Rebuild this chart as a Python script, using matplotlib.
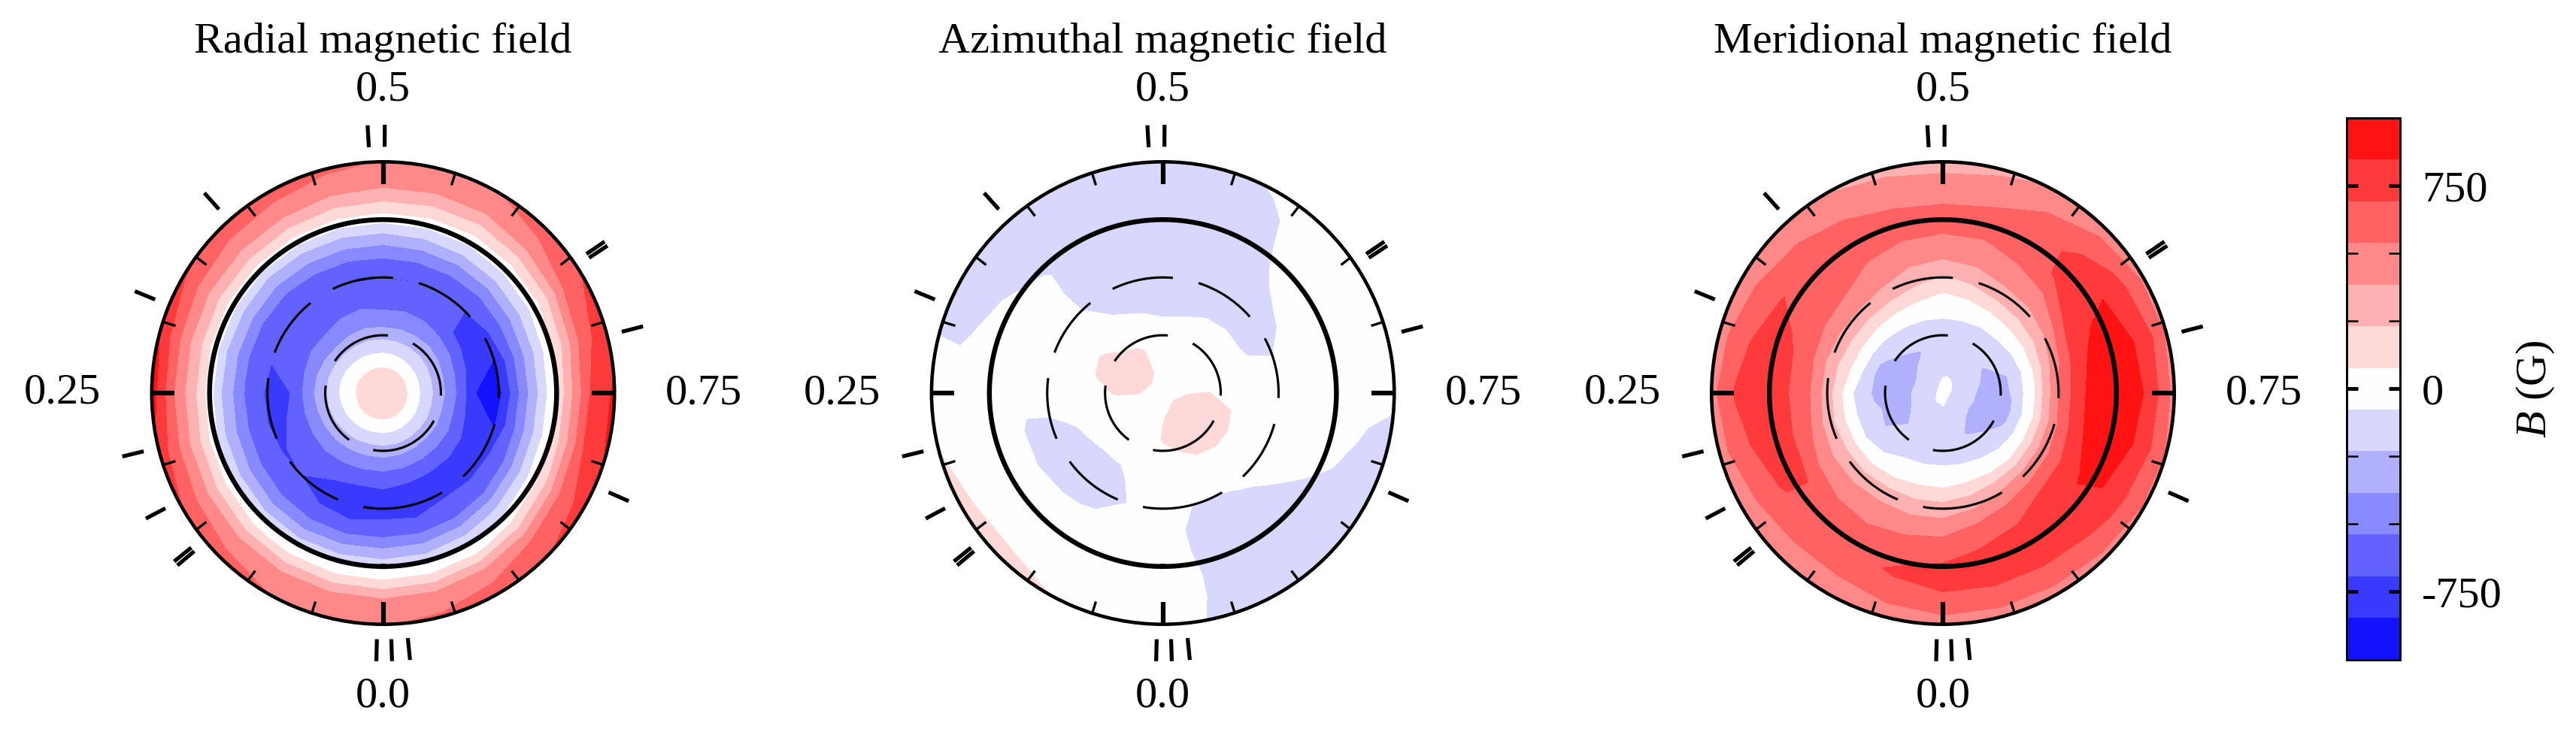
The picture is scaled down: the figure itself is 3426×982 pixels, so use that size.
import numpy as np
import matplotlib
matplotlib.use("Agg")
import matplotlib.pyplot as plt

plt.rcParams['font.family'] = ['Liberation Serif', 'DejaVu Serif']
plt.rcParams['mathtext.fontset'] = 'custom'
plt.rcParams['mathtext.rm'] = 'Liberation Serif'
plt.rcParams['mathtext.it'] = 'Liberation Serif:italic'
plt.rcParams['lines.scale_dashes'] = False

titles = ["Radial magnetic field", "Azimuthal magnetic field", "Meridional magnetic field"]
major_phases = [0.0, 0.25, 0.5, 0.75]
major_labels = ["0.0", "0.25", "0.5", "0.75"]
obs_phases = [0.004, 0.9947, 0.984, 0.212, 0.1725, 0.139, 0.142, 0.312, 0.384, 0.4908, 0.501,
              0.816, 0.71, 0.6575, 0.6545]
level_edges = np.linspace(-1000, 1000, 14)
cbar_major = [-750, 0, 750]
cbar_minor = [-500, -250, 250, 500]
cbar_labels = ["-750", "0", "750"]

radii = [0.0, 0.1, 0.2, 0.3, 0.4, 0.5, 0.6, 0.7, 0.8, 0.9, 1.0]
# columns: phase = k/24
radial_field = [
    [150]*24,
    [110,110,110,112,112,110,110,110,108,105,103,100,100,96,92,90,87,85,85,88,92,98,102,106],
    [-150,-150,-140,-130,-120,-110,-100,-100,-110,-120,-130,-140,-140,-150,-160,-170,-180,-190,-190,-190,-180,-175,-165,-155],
    [-450,-450,-440,-430,-420,-410,-390,-400,-420,-440,-420,-410,-430,-430,-430,-430,-450,-480,-480,-500,-480,-480,-470,-460],
    [-680,-680,-660,-640,-660,-680,-692,-670,-620,-620,-590,-580,-612,-600,-620,-680,-730,-780,-846,-790,-720,-700,-700,-690],
    [-760,-790,-760,-692,-700,-720,-720,-692,-640,-640,-660,-700,-695,-695,-650,-692,-760,-860,-900,-860,-760,-740,-720,-780],
    [-620,-640,-630,-600,-570,-545,-538,-540,-545,-540,-530,-520,-510,-510,-520,-520,-500,-490,-490,-500,-540,-590,-620,-630],
    [-300,-310,-330,-320,-290,-260,-230,-230,-230,-250,-230,-220,-210,-200,-200,-190,-170,-140,-120,-130,-170,-220,-270,-300],
    [40,40,60,90,130,170,200,190,170,170,160,150,150,130,110,130,150,230,300,280,210,120,60,40],
    [420,420,420,440,470,500,520,510,480,470,460,430,410,400,400,460,540,640,710,700,620,530,470,430],
    [530,530,540,610,690,800,930,850,720,640,610,570,530,520,530,620,700,790,870,860,760,680,610,560],
]
azimuthal_field = [
    [30]*24,
    [70,50,45,45,55,65,78,90,100,100,85,65,45,30,25,30,45,60,72,90,110,110,100,85],
    [85,30,-10,-15,0,40,85,115,130,115,100,50,15,-5,-5,0,10,40,80,125,150,150,130,110],
    [30,-10,-50,-45,-20,10,50,78,90,40,0,-40,-65,-60,-40,-30,-15,10,30,80,100,100,80,55],
    [-10,-50,-95,-105,-95,-65,-20,10,0,-40,-85,-105,-105,-100,-90,-85,-90,-60,-25,-10,0,0,-30,-20],
    [-20,-70,-105,-125,-125,-85,-45,-30,-50,-75,-115,-140,-150,-145,-130,-120,-115,-65,-30,-20,-30,-60,-77,-78],
    [-40,-55,-70,-85,-95,-90,-45,-30,-20,-77,-135,-155,-160,-155,-145,-95,-60,-35,-20,-25,-50,-85,-110,-100],
    [-30,-25,-15,-10,-25,-30,-25,-15,-10,-72,-120,-140,-150,-150,-125,-60,-35,-25,-20,-30,-70,-115,-130,-100],
    [-20,15,20,30,10,-10,-25,-45,-77,-95,-125,-130,-135,-130,-100,-50,-30,-20,-25,-50,-95,-125,-130,-90],
    [-20,30,50,65,55,40,-20,-85,-110,-115,-120,-115,-115,-110,-90,-45,-30,-30,-45,-95,-115,-120,-125,-90],
    [-30,50,78,95,100,78,0,-80,-110,-120,-120,-115,-110,-100,-70,-35,-25,-30,-60,-110,-120,-120,-120,-95],
]
meridional_field = [
    [-30]*24,
    [-110,-130,-130,-140,-170,-190,-200,-210,-210,-190,-160,-130,-100,-95,-100,-120,-140,-160,-190,-200,-210,-205,-180,-140],
    [-130,-145,-170,-220,-275,-290,-285,-285,-280,-265,-240,-180,-130,-120,-130,-190,-240,-270,-285,-285,-285,-270,-240,-180],
    [-100,-105,-105,-160,-225,-210,-250,-250,-220,-170,-140,-120,-100,-110,-130,-140,-180,-225,-225,-240,-225,-170,-130,-110],
    [50,50,10,-30,-50,-50,-55,40,70,75,70,50,0,30,60,80,70,70,80,60,65,50,70,75],
    [295,290,310,290,285,270,300,310,350,360,340,280,215,260,320,340,370,470,540,500,470,450,410,340],
    [505,500,490,490,490,570,615,600,560,540,500,440,425,450,500,510,690,780,820,800,720,700,640,580],
    [650,610,580,600,720,735,730,730,640,590,570,560,550,550,580,720,800,920,960,950,870,780,740,710],
    [770,720,620,600,710,760,780,760,700,600,570,560,560,570,600,740,850,900,960,930,850,780,770,780],
    [640,590,550,550,580,650,700,650,590,540,520,470,430,470,540,640,720,800,790,760,710,670,650,640],
    [470,460,440,430,440,470,490,470,430,400,380,340,340,350,400,460,510,520,480,530,520,490,470,470],
]
fields = [radial_field, azimuthal_field, meridional_field]

W, H = 3426, 982
R = 307.7
centres_x = [509.5, 1546.6, 2584.0]
cy = 523.0

fig = plt.figure(figsize=(W/300, H/300), dpi=300, facecolor='white')
phase_cols = np.arange(25) / 24
theta_cols = 2*np.pi*phase_cols
last = None
for cx, title, field in zip(centres_x, titles, fields):
    ax = fig.add_axes([(cx-R)/W, (H-cy-R)/H, 2*R/W, 2*R/H], projection='polar')
    ax.set_theta_zero_location('S')
    ax.set_theta_direction(-1)
    z = np.array(field, dtype=float)
    z = np.hstack([z, z[:, :1]])
    # repeat the rim ring just outside the axes so that chords do not leave gaps at the edge
    z = np.vstack([z, z[-1:]])
    rr = np.array(radii + [1.02])
    T, Rr = np.meshgrid(theta_cols, rr)
    last = ax.contourf(T, Rr, z, levels=level_edges, cmap='bwr', vmin=-1000, vmax=1000)
    circ = np.linspace(2*np.pi, 0, 721)
    ax.plot(circ, np.full_like(circ, 0.75), color='k', lw=1.55)
    for rad in (0.25, 0.5):
        ax.plot(circ, np.full_like(circ, rad), color='k', lw=0.75, linestyle=(0, (19.8, 8.4)))
    for ph in obs_phases:
        ax.plot([2*np.pi*ph]*2, [1.065, 1.16], color='k', lw=1.25, clip_on=False, solid_capstyle='butt')
    ax.set_xlim(0, 2*np.pi)
    ax.set_ylim(0, 1)
    ax.set_yticks([])
    ax.set_xticks(2*np.pi*np.array(major_phases))
    ax.set_xticklabels(major_labels, fontsize=14)
    ax.set_xticks(2*np.pi*np.arange(0, 1, 0.05), minor=True)
    ax.tick_params(axis='x', which='both', top=True, bottom=False)
    ax.tick_params(axis='x', which='major', direction='in', length=7.2, width=1.5, pad=16)
    ax.tick_params(axis='x', which='minor', direction='in', length=4.0, width=0.8)
    for tick, tick_pad in zip(ax.xaxis.get_major_ticks(), (16, 21.5, 16, 21.5)):
        tick.set_pad(tick_pad)
    ax.grid(False)
    ax.spines['polar'].set_linewidth(1.1)
    ax.set_title(title, fontsize=14, y=1.0, pad=34.8)

cax = fig.add_axes([3121/W, (H-877.5)/H, 71/W, 720.5/H])
cb = fig.colorbar(last, cax=cax)
cb.set_ticks(cbar_major, labels=cbar_labels)
cb.set_ticks(cbar_minor, minor=True)
cb.ax.tick_params(which='major', direction='in', left=True, right=True, length=3.6, width=1.2, labelsize=14, pad=7)
cb.ax.tick_params(which='minor', direction='in', left=True, right=True, length=3.6, width=0.6)
cb.outline.set_linewidth(0.7)
cb.set_label("$B$ (G)", fontsize=14, labelpad=4)

fig.savefig("out.png", dpi=300)
